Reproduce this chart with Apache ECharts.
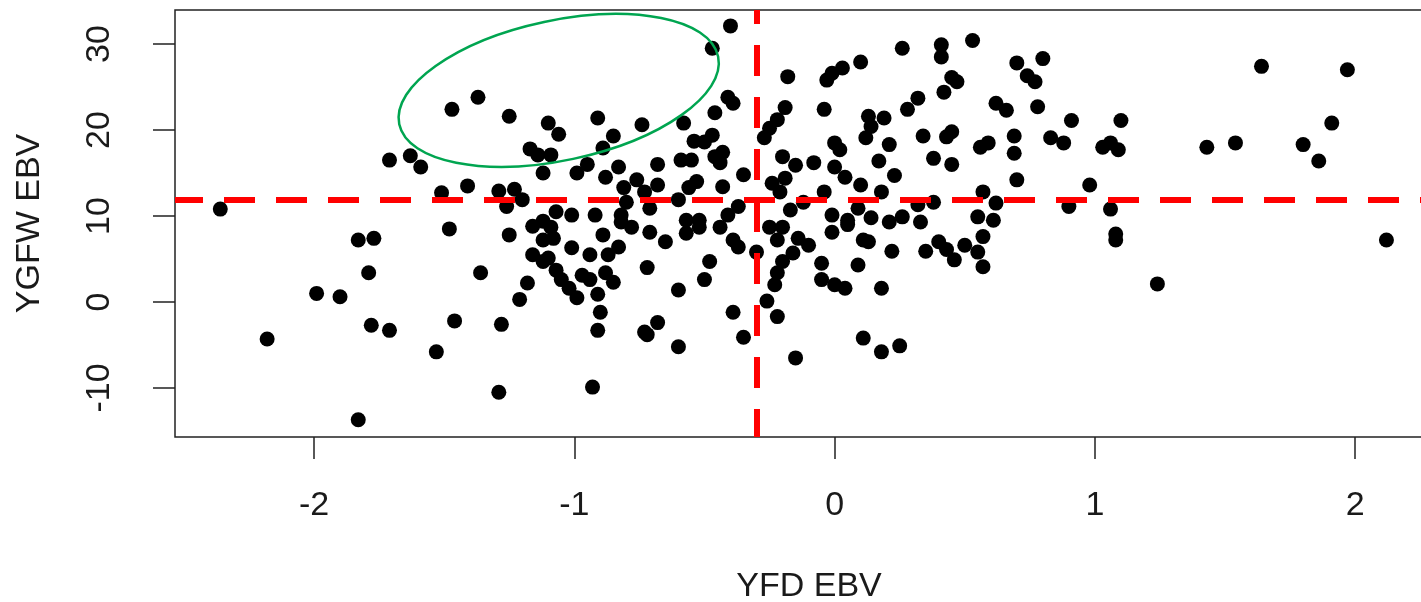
<!DOCTYPE html>
<html>
<head>
<meta charset="utf-8">
<title>YFD EBV vs YGFW EBV</title>
<script src="https://cdn.jsdelivr.net/npm/echarts@6/dist/echarts.min.js"></script>
<style>
  html, body { margin: 0; padding: 0; background: #fff; }
  #chart { width: 1421px; height: 602px; }
</style>
</head>
<body>
<div id="chart"></div>
<script>
// 散点数据：x = YFD EBV, y = YGFW EBV
const yfdEbv = [
  -2.36, -2.18, -1.99, -1.90, -1.83, -1.77, -1.79, -1.78, -1.83, -1.71,
  -1.71, -1.63, -1.59, -1.53, -1.51, -1.48, -1.47, -1.46, -1.41, -1.37,
  -1.36, -1.29, -1.28, -1.29, -1.25, -1.23, -1.26, -1.20, -1.25, -1.21,
  -1.18, -1.17, -1.14, -1.12, -1.10, -1.16, -1.12, -1.12, -1.16, -1.12,
  -1.06, -0.91, -0.85, -0.74, -0.89, -0.58, -0.54, -0.59, -0.55, -1.09,
  -0.95, -0.99, -0.83, -0.88, -0.68, -0.76, -0.81, -0.68, -0.73, -0.53,
  -0.56, -0.80, -0.60, -0.71, -1.07, -1.01, -0.92, -0.82, -0.57, -0.52,
  -1.09, -0.82, -0.78, -1.08, -0.89, -0.71, -0.65, -0.57, -0.52, -1.01,
  -0.94, -0.87, -0.83, -1.10, -1.07, -1.05, -0.97, -0.94, -0.88, -0.85,
  -1.02, -0.99, -0.91, -0.72, -0.60, -0.50, -0.90, -0.91, -0.68, -0.73,
  -0.72, -0.60, -0.93,
  -0.40, -0.47, -0.18, -0.01, 0.03, -0.03, 0.10, -0.04, -0.41, -0.39,
  -0.46, -0.19, -0.22, -0.25, -0.27, -0.47, -0.50, 0.00, 0.02, -0.46,
  -0.43, -0.44, -0.20, -0.15, -0.08, 0.00, 0.04, 0.10, -0.35, -0.43,
  -0.24, -0.19, -0.21,
  -0.04, -0.12, -0.17, -0.37, -0.41, -0.01, 0.05, 0.09, -0.44, -0.39,
  -0.37, -0.30, -0.25, -0.20, -0.22, -0.14, -0.10, -0.16, -0.20, -0.22,
  -0.23, -0.26, -0.48, -0.05, -0.05, 0.00, 0.04, -0.01, 0.05, 0.09,
  0.11, -0.39, -0.22, -0.35, -0.15, 0.11,
  0.26, 0.41, 0.41, 0.53, 0.70, 0.74, 0.77, 0.45, 0.47, 0.42,
  0.32, 0.28, 0.62, 0.66, 0.13, 0.19, 0.14, 0.12, 0.34, 0.45,
  0.43, 0.56, 0.59, 0.69, 0.21, 0.17, 0.38, 0.45, 0.69, 0.23,
  0.70, 0.18, 0.57, 0.62, 0.32, 0.38, 0.14, 0.21, 0.26, 0.33,
  0.55, 0.61, 0.13, 0.22, 0.35, 0.40, 0.43, 0.46, 0.50, 0.55,
  0.57, 0.57, 0.18, 0.18, 0.25,
  0.80, 0.78, 0.83, 0.88, 0.91, 1.03, 1.06, 1.09, 1.10, 0.98,
  0.90, 1.06, 1.08, 1.08, 1.24, 1.43, 1.64, 1.97, 1.91, 1.54,
  1.80, 1.86, 2.12
];
const ygfwEbv = [
  10.8, -4.3, 1.0, 0.6, 7.2, 7.4, 3.4, -2.7, -13.7, 16.5,
  -3.3, 17.0, 15.7, -5.8, 12.7, 8.5, 22.4, -2.2, 13.5, 23.8,
  3.4, 12.9, -2.6, -10.5, 21.6, 13.1, 11.1, 11.9, 7.8, 0.3,
  2.2, 17.8, 17.1, 15.0, 20.8, 8.8, 9.4, 7.2, 5.5, 4.7,
  19.5, 21.4, 19.3, 20.6, 17.9, 20.8, 18.7, 16.5, 16.5, 17.1,
  16.0, 15.0, 15.7, 14.5, 16.0, 14.2, 13.3, 13.6, 12.8, 14.0,
  13.3, 11.6, 11.9, 10.9, 10.5, 10.1, 10.1, 10.1, 9.5, 9.5,
  8.7, 9.3, 8.7, 7.4, 7.8, 8.1, 7.0, 8.0, 8.7, 6.3,
  5.5, 5.5, 6.4, 5.1, 3.7, 2.6, 3.1, 2.6, 3.4, 2.3,
  1.6, 0.5, 0.9, 4.0, 1.4, 2.6, -1.2, -3.3, -2.4, -3.5,
  -3.8, -5.2, -9.9,
  32.1, 29.5, 26.2, 26.6, 27.2, 25.8, 27.9, 22.4, 23.8, 23.1,
  22.0, 22.6, 21.2, 20.2, 19.1, 19.4, 18.6, 18.5, 17.7, 16.9,
  17.4, 16.2, 16.9, 15.9, 16.2, 15.7, 14.5, 13.6, 14.8, 13.4,
  13.8, 14.4, 12.8,
  12.8, 11.6, 10.7, 11.1, 10.1, 10.1, 9.5, 10.9, 8.7, 7.2,
  6.4, 5.8, 8.7, 8.7, 7.2, 7.4, 6.6, 5.7, 4.7, 3.4,
  2.0, 0.1, 4.7, 4.5, 2.6, 2.0, 1.6, 8.1, 9.0, 4.3,
  7.2, -1.2, -1.7, -4.1, -6.5, -4.2,
  29.5, 29.9, 28.5, 30.4, 27.8, 26.3, 25.6, 26.1, 25.6, 24.4,
  23.7, 22.4, 23.1, 22.3, 21.6, 21.4, 20.4, 19.1, 19.3, 19.8,
  19.2, 18.0, 18.5, 19.3, 18.3, 16.4, 16.7, 16.0, 17.3, 14.7,
  14.2, 12.8, 12.8, 11.5, 11.3, 11.6, 9.8, 9.3, 9.9, 9.3,
  9.9, 9.5, 7.0, 5.9, 5.9, 7.0, 6.1, 4.9, 6.6, 5.8,
  7.6, 4.1, 1.6, -5.8, -5.1,
  28.3, 22.7, 19.1, 18.5, 21.1, 18.0, 18.5, 17.7, 21.1, 13.6,
  11.1, 10.8, 7.9, 7.2, 2.1, 18.0, 27.4, 27.0, 20.8, 18.5,
  18.3, 16.4, 7.2
];

// 刻度
const xTicks = [-2, -1, 0, 1, 2];
const yTicks = [-10, 0, 10, 20, 30];

// 两条红色虚线（均值位置）
const meanYfd = -0.30;
const meanYgfw = 11.85;

// 绿色椭圆的中心（数据坐标）
const ellipseCenter = [-1.06, 24.6];

const points = yfdEbv.map((x, i) => [x, ygfwEbv[i]]);

const FONT = "'Liberation Sans', Arial, sans-serif";
const TEXT_COLOR = "#1a1a1a";
const LEFT = 175, TOP = 10, BOTTOM = 165;
const PX_PER_X = 260.3, PX_PER_Y = 8.6;
const X_MIN = -2.534, Y_MIN = -15.70;

const chart = echarts.init(document.getElementById("chart"), null, { renderer: "canvas" });
const plotW = 1421 + 2 - LEFT;
const plotH = 602 - TOP - BOTTOM;

chart.setOption({
  animation: false,
  backgroundColor: "#fff",
  grid: {
    left: LEFT,
    right: -2,
    top: TOP,
    bottom: BOTTOM,
    outerBoundsMode: "none",
    containLabel: false,
    show: true,
    borderColor: "#222",
    borderWidth: 1.5,
  },
  xAxis: {
    type: "value",
    min: X_MIN,
    max: X_MIN + plotW / PX_PER_X,
    name: "YFD EBV",
    nameLocation: "middle",
    nameGap: 133,
    nameTextStyle: { fontFamily: FONT, fontSize: 34, color: TEXT_COLOR, padding: [0, 0, 0, 20] },
    axisLine: { show: false, onZero: false },
    splitLine: { show: false },
    axisTick: {
      show: true,
      length: 22,
      customValues: xTicks,
      lineStyle: { color: "#222", width: 1.5 },
    },
    axisLabel: {
      customValues: xTicks,
      margin: 52,
      fontFamily: FONT,
      fontSize: 34,
      color: TEXT_COLOR,
    },
  },
  yAxis: {
    type: "value",
    min: Y_MIN,
    max: Y_MIN + plotH / PX_PER_Y,
    name: "YGFW EBV",
    nameLocation: "middle",
    nameRotate: 90,
    nameGap: 128,
    nameTextStyle: { fontFamily: FONT, fontSize: 34, color: TEXT_COLOR },
    axisLine: { show: false, onZero: false },
    splitLine: { show: false },
    axisTick: {
      show: true,
      length: 22,
      customValues: yTicks,
      lineStyle: { color: "#222", width: 1.5 },
    },
    axisLabel: {
      customValues: yTicks,
      rotate: 90,
      margin: 58,
      fontFamily: FONT,
      fontSize: 34,
      color: TEXT_COLOR,
    },
  },
  series: [
    {
      type: "scatter",
      data: points,
      symbol: "circle",
      symbolSize: 15,
      itemStyle: { color: "#000", opacity: 1 },
      z: 2,
    },
    {
      // 只用来画红色虚线
      type: "line",
      data: [],
      z: 5,
      markLine: {
        silent: true,
        symbol: "none",
        label: { show: false },
        lineStyle: {
          color: "#ff0000",
          width: 6,
          type: [31, 21],
          dashOffset: 3,
          opacity: 1,
        },
        data: [{ xAxis: meanYfd }, { yAxis: meanYgfw }],
      },
    },
  ],
});

// 绿色椭圆标注
const c = chart.convertToPixel({ gridIndex: 0 }, ellipseCenter);
chart.setOption({
  graphic: [
    {
      type: "ellipse",
      x: c[0],
      y: c[1],
      rotation: (12 * Math.PI) / 180,
      shape: { cx: 0, cy: 0, rx: 163, ry: 70 },
      style: { fill: null, stroke: "#00a550", lineWidth: 2.5 },
      z: 10,
      silent: true,
    },
  ],
});
</script>
</body>
</html>
